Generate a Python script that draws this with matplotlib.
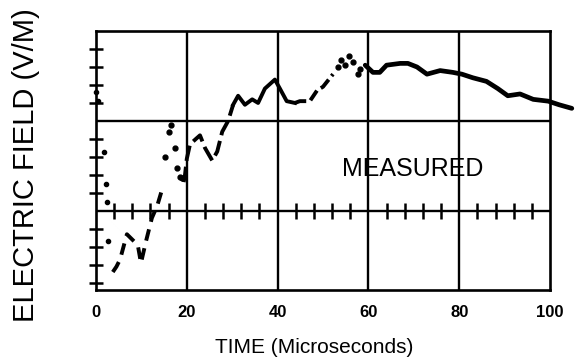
import numpy as np
import matplotlib
matplotlib.use("Agg")
import matplotlib.pyplot as plt

# ---- data (time in microseconds, field in grid units) ----
t_dots1 = [0.0, 0.4, 1.8, 2.2, 2.4, 2.6]
v_dots1 = [6.6, 6.1, 3.3, 1.5, 0.5, -1.7]

t_dash1 = [3.7, 4.5, 5.3, 6.8, 8.0, 9.2, 9.9, 11.0, 12.3, 13.5, 14.8]
v_dash1 = [-3.4, -3.1, -2.7, -1.3, -1.6, -1.9, -2.9, -1.7, -0.4, 0.3, 1.4]

t_dots3 = [15.2, 16.1, 16.5, 17.4, 17.8, 18.6, 19.0]
v_dots3 = [3.0, 4.4, 4.8, 3.5, 2.4, 1.9, 1.8]

t_dash3 = [19.3, 19.6, 20.0, 20.7, 22.0, 22.9, 24.0, 25.6, 26.7, 27.8, 29.1, 30.2]
v_dash3 = [1.6, 2.0, 2.9, 3.7, 4.0, 4.2, 3.5, 2.8, 3.3, 4.4, 5.0, 5.9]

t_solid1 = [30.2, 31.3, 32.8, 34.4, 35.7, 37.2, 39.4, 40.5, 42.0, 43.8]
v_solid1 = [5.9, 6.4, 5.9, 6.2, 6.0, 6.8, 7.3, 6.8, 6.1, 6.0]

t_dash2 = [43.8, 44.9, 47.1, 48.7, 50.0, 52.2]
v_dash2 = [6.0, 6.1, 6.1, 6.7, 6.9, 7.6]

t_dots2 = [53.2, 53.9, 54.8, 55.8, 56.6, 57.7, 58.2]
v_dots2 = [8.0, 8.4, 8.1, 8.6, 8.3, 7.6, 7.9]

t_solid2 = [59.3, 61.0, 62.5, 64.0, 67.0, 68.7, 70.7, 72.9, 75.8, 78.6, 80.6, 83.0,
            86.0, 88.5, 90.7, 93.4, 96.3, 99.6, 102.0, 104.8]
v_solid2 = [8.1, 7.7, 7.7, 8.1, 8.2, 8.2, 8.0, 7.6, 7.8, 7.7, 7.6, 7.4,
            7.2, 6.8, 6.4, 6.5, 6.2, 6.1, 5.9, 5.7]

x_ticks = [0, 20, 40, 60, 80, 100]
minor_x = [4, 8, 12, 16, 24, 28, 32, 36, 44, 48, 52, 56, 64, 68, 72, 76, 84, 88, 92, 96]
minor_y = [-4, -3, -2, -1, 1, 2, 3, 4, 6, 7, 8, 9]

fig = plt.figure(figsize=(5.83, 3.64), dpi=100)
ax = fig.add_axes([0.1647, 0.2033, 0.7787, 0.7115])

ax.set_xlim(0, 100)
ax.set_ylim(-4.4, 10)

# grid lines
for x in [20, 40, 60, 80]:
    ax.axvline(x, color="black", lw=1.7)
for y in [0, 5]:
    ax.axhline(y, color="black", lw=1.7)
for s in ax.spines.values():
    s.set_linewidth(1.9)

# crossing tick marks on zero line and left axis
ax.plot(minor_x, [0] * len(minor_x), ls="none", marker="|", ms=11, mew=1.8,
        color="black")
ax.plot([0] * len(minor_y), minor_y, ls="none", marker="_", ms=10, mew=1.8,
        color="black", clip_on=False)

# measured curve
ax.plot(t_dots1, v_dots1, ls="none", marker="o", ms=3, color="black", clip_on=False)
ax.plot(t_dash1, v_dash1, color="black", lw=2.8, dashes=(3, 2), clip_on=False)
ax.plot(t_dots3, v_dots3, ls="none", marker="o", ms=3.5, color="black")
ax.plot(t_dash3, v_dash3, color="black", lw=2.8, dashes=(4, 1.5))
ax.plot(t_solid1, v_solid1, color="black", lw=2.8)
ax.plot(t_dash2, v_dash2, color="black", lw=2.8, dashes=(3, 1.2))
ax.plot(t_dots2, v_dots2, ls="none", marker="o", ms=3.5, color="black")
ax.plot(t_solid2, v_solid2, color="black", lw=3.4, clip_on=False,
        solid_capstyle="round")

ax.text(69.8, 2.3, "MEASURED", fontsize=18, ha="center", va="center",
        family="Liberation Sans")

ax.set_xticks(x_ticks)
ax.set_xticklabels([str(v) for v in x_ticks], fontsize=12, fontweight="bold",
                   family="Liberation Sans")
ax.tick_params(axis="x", length=0, pad=11)
ax.set_yticks([])

fig.text(0.539, 0.044, "TIME (Microseconds)", fontsize=15, ha="center", va="center",
         family="Liberation Sans")
fig.text(0.045, 0.545, "ELECTRIC FIELD (V/M)", fontsize=21, rotation=90,
         ha="center", va="center", family="Liberation Sans")

fig.savefig("out.png", dpi=100)
